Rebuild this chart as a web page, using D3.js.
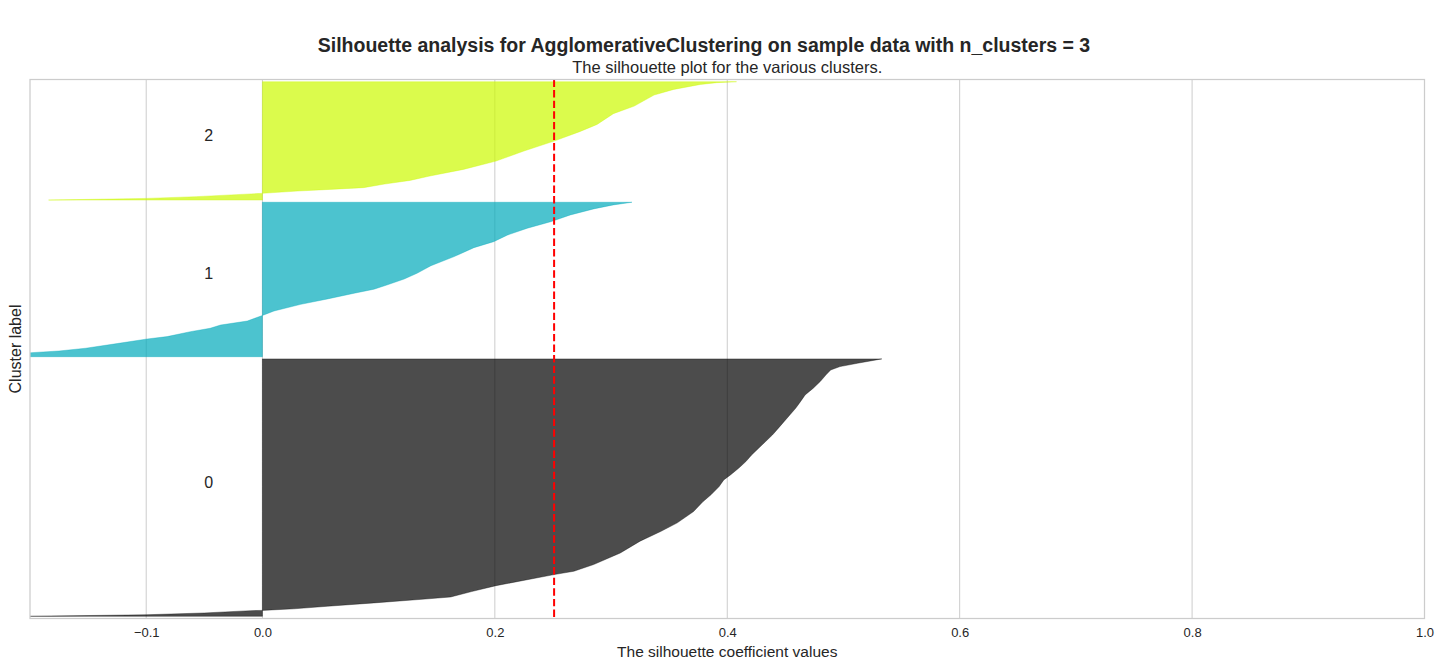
<!DOCTYPE html>
<html>
<head>
<meta charset="utf-8">
<script src="https://cdn.jsdelivr.net/npm/d3@7"></script>
<style>
body { margin: 0; background: #fff; }
text { font-family: "Liberation Sans", Arial, sans-serif; fill: #262626; }
</style>
</head>
<body>
<svg id="chart"></svg>
<script>
let clusterIds = [0, 1, 2]
let clusterSizes = [1170, 702, 538]
let clusterColors = ['#000000', '#00aabb', '#ccf900']

// sorted silhouette values, read at a share (percent) of each cluster's samples
let c0Pct = [0, 0.6, 1.3, 2.2, 2.3, 2.9, 3.9, 5.2, 6.7, 7.5, 9.6, 11.9, 16.2, 17.5, 20.1, 24.6, 29.2, 33.0, 36.3, 40.7, 44.5, 47.2, 50.4, 53.0, 55.0, 57.6, 60.1, 62.7, 65.3, 67.9, 70.5, 73.1, 75.7, 78.3, 80.9, 83.4, 86.0, 88.6, 91.2, 93.8, 95.7, 97.0, 98.3, 100]
let c0Sil = [-0.20, -0.10, -0.05, -0.01, 0.0, 0.027, 0.056, 0.096, 0.140, 0.162, 0.180, 0.201, 0.251, 0.268, 0.285, 0.308, 0.325, 0.343, 0.357, 0.371, 0.379, 0.386, 0.393, 0.397, 0.403, 0.410, 0.416, 0.421, 0.427, 0.433, 0.439, 0.444, 0.449, 0.454, 0.459, 0.463, 0.467, 0.474, 0.480, 0.485, 0.489, 0.497, 0.512, 0.533]

let c1Pct = [0, 2.6, 3.7, 5.5, 8.5, 11.5, 13.0, 16.2, 18.4, 20.5, 23.1, 26.7, 29.6, 33.9, 37.4, 41.1, 43.7, 46.4, 50.3, 54.0, 58.9, 64.8, 70.6, 74.5, 78.8, 83.2, 87.4, 91.8, 95.7, 98.3, 100]
let c1Sil = [-0.23, -0.199, -0.175, -0.152, -0.125, -0.099, -0.082, -0.062, -0.045, -0.036, -0.013, 0.0, 0.010, 0.033, 0.056, 0.079, 0.096, 0.107, 0.122, 0.133, 0.145, 0.165, 0.182, 0.199, 0.211, 0.228, 0.248, 0.265, 0.285, 0.302, 0.318]

let c2Pct = [0, 1.4, 2.9, 5.7, 7.6, 9.0, 10.5, 13.5, 16.6, 20.3, 25.9, 32.9, 41.4, 49.8, 57.8, 63.9, 73.0, 79.4, 88.7, 93.5, 97.7, 99.2, 100]
let c2Sil = [-0.184, -0.10, -0.057, 0.0, 0.030, 0.058, 0.087, 0.105, 0.127, 0.144, 0.173, 0.201, 0.225, 0.251, 0.273, 0.288, 0.302, 0.320, 0.337, 0.354, 0.377, 0.391, 0.408]

let avgScore = 0.251
let xTicks = [-0.1, 0, 0.2, 0.4, 0.6, 0.8, 1.0]
let xLimits = [-0.2, 1.0]
let gap = 10

let width = 1444
let height = 670
let plotLeft = 30, plotRight = 1424.5, plotTop = 79.5, plotBottom = 618.5

let svg = d3.select('#chart').attr('width', width).attr('height', height)

// stack the clusters from the bottom, 10 samples apart
let pcts = [c0Pct, c1Pct, c2Pct]
let sils = [c0Sil, c1Sil, c2Sil]
let clusters = []
let yLower = gap
clusterIds.forEach((id, i) => {
    let pts = pcts[i].map((p, j) => ({ rank: yLower + p / 100 * clusterSizes[i], value: sils[i][j] }))
    clusters.push({ id: id, lower: yLower, size: clusterSizes[i], color: clusterColors[i], points: pts })
    yLower = yLower + clusterSizes[i] + gap
})
let total = d3.sum(clusterSizes) + (clusterIds.length + 1) * gap

let xScale = d3.scaleLinear().domain(xLimits).range([plotLeft, plotRight])
let yScale = d3.scaleLinear().domain([0, total]).range([plotBottom, plotTop])

svg.append('clipPath').attr('id', 'plot-clip')
    .append('rect')
    .attr('x', plotLeft).attr('y', plotTop)
    .attr('width', plotRight - plotLeft).attr('height', plotBottom - plotTop)

// grid
svg.append('g')
    .selectAll('line')
    .data(xTicks)
    .enter()
    .append('line')
    .attr('x1', d => xScale(d)).attr('x2', d => xScale(d))
    .attr('y1', plotTop).attr('y2', plotBottom)
    .attr('stroke', '#cccccc')
    .attr('stroke-width', 1)

let area = d3.area()
    .y(d => yScale(d.rank))
    .x0(xScale(0))
    .x1(d => xScale(d.value))

let plot = svg.append('g').attr('clip-path', 'url(#plot-clip)')

plot.selectAll('path.silhouette')
    .data(clusters)
    .enter()
    .append('path')
    .attr('class', 'silhouette')
    .attr('d', d => area(d.points))
    .attr('fill', d => d.color)
    .attr('fill-opacity', 0.7)
    .attr('stroke', d => d.color)
    .attr('stroke-opacity', 0.7)
    .attr('stroke-width', 0.5)

plot.selectAll('text.cluster-label')
    .data(clusters)
    .enter()
    .append('text')
    .attr('class', 'cluster-label')
    .attr('x', xScale(-0.05))
    .attr('y', d => yScale(d.lower + 0.5 * d.size))
    .attr('font-size', '16px')
    .text(d => d.id)

// average silhouette score
svg.append('line')
    .attr('x1', xScale(avgScore)).attr('x2', xScale(avgScore))
    .attr('y1', plotTop).attr('y2', plotBottom)
    .attr('stroke', 'red')
    .attr('stroke-width', 2)
    .attr('stroke-dasharray', '7.4,3.2')

let xAxis = d3.axisBottom(xScale)
    .tickValues(xTicks)
    .tickSize(0)
    .tickPadding(9)
    .tickFormat(d3.format('.1f'))
let axisG = svg.append('g')
    .attr('transform', 'translate(0,' + plotBottom + ')')
    .call(xAxis)
axisG.select('.domain').remove()
axisG.selectAll('text')
    .attr('font-size', '13px')
    .attr('font-family', '"Liberation Sans", Arial, sans-serif')
    .attr('fill', '#262626')

// spines
svg.append('rect')
    .attr('x', plotLeft).attr('y', plotTop)
    .attr('width', plotRight - plotLeft).attr('height', plotBottom - plotTop)
    .attr('fill', 'none')
    .attr('stroke', '#cccccc')
    .attr('stroke-width', 1.25)

svg.append('text')
    .attr('x', (plotLeft + plotRight) / 2)
    .attr('y', 656.5)
    .attr('text-anchor', 'middle')
    .attr('font-size', '15.5px')
    .text('The silhouette coefficient values')

svg.append('text')
    .attr('transform', 'translate(21,' + (plotTop + plotBottom) / 2 + ') rotate(-90)')
    .attr('text-anchor', 'middle')
    .attr('font-size', '16px')
    .text('Cluster label')

svg.append('text')
    .attr('x', (plotLeft + plotRight) / 2)
    .attr('y', 73)
    .attr('text-anchor', 'middle')
    .attr('font-size', '16.5px')
    .text('The silhouette plot for the various clusters.')

svg.append('text')
    .attr('x', 704)
    .attr('y', 52)
    .attr('text-anchor', 'middle')
    .attr('font-size', '19.5px')
    .attr('font-weight', 'bold')
    .text('Silhouette analysis for AgglomerativeClustering on sample data with n_clusters = 3')
</script>
</body>
</html>
